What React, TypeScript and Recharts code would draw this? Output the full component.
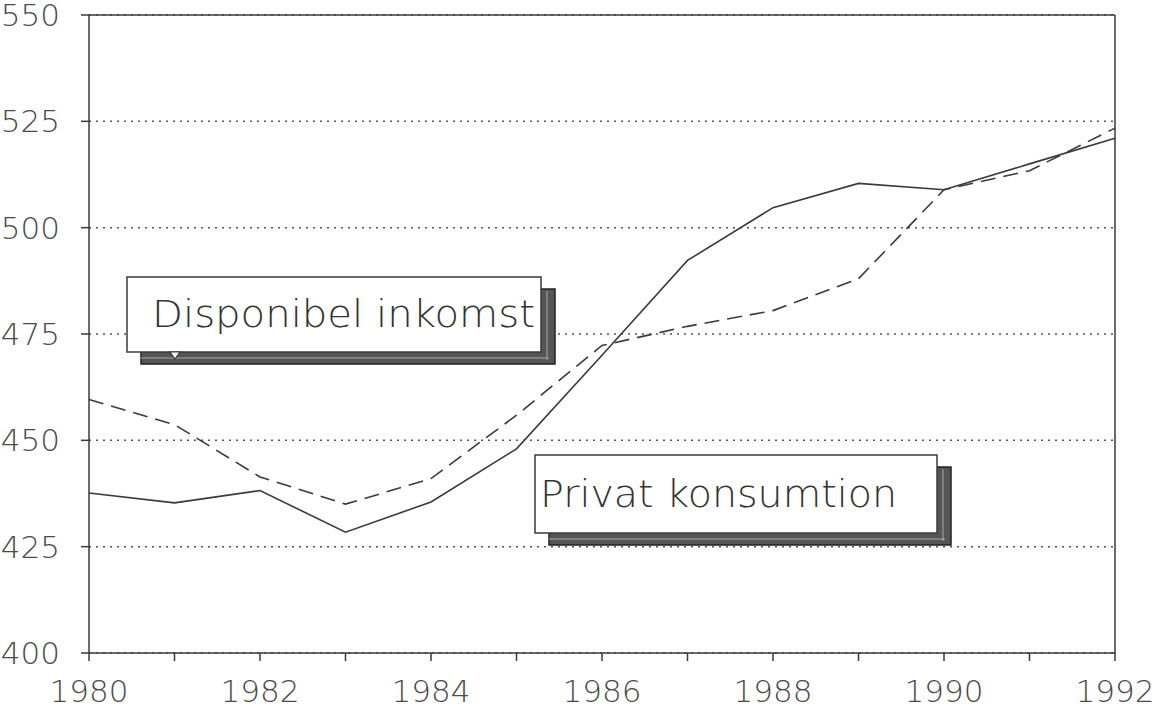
import React from 'react';
import { LineChart, Line, XAxis, YAxis, CartesianGrid, ReferenceLine } from 'recharts';

const years = [1980, 1981, 1982, 1983, 1984, 1985, 1986, 1987, 1988, 1989, 1990, 1991, 1992];
const privatKonsumtion = [437.6, 435.3, 438.2, 428.4, 435.5, 448.0, 470.0, 492.3, 504.7, 510.4, 508.9, 515.0, 521.0];
const disponibelInkomst = [459.6, 453.7, 441.4, 435.0, 441.0, 455.9, 472.3, 476.8, 480.5, 488.0, 508.9, 513.4, 523.4];
const yTicks = [400, 425, 450, 475, 500, 525, 550];
const labelDisponibel = 'Disponibel inkomst';
const labelPrivat = 'Privat konsumtion';

const data = years.map((year, i) => ({
  year,
  privat: privatKonsumtion[i],
  disponibel: disponibelInkomst[i],
}));

const ink = '#3a3a3a';
const tickFont = { fontFamily: "'DejaVu Sans', sans-serif", fontWeight: 200, fontSize: 31, fill: '#4a4a4a' };

function LabelBox(props: { x: number; y: number; w: number; h: number; text: string; tx: number; ty: number; tw: number; notch?: number }) {
  const { x, y, w, h, text, tx, ty, tw, notch } = props;
  return (
    <g>
      <rect x={x + 14} y={y + 12} width={w} height={h} fill="#555" stroke="#222" strokeWidth={1.5} />
      <line x1={x + 14} y1={y + h + 6} x2={x + w + 8} y2={y + h + 6} stroke="#aaa" strokeWidth={1} />
      <line x1={x + w + 6} y1={y + 14} x2={x + w + 6} y2={y + h + 8} stroke="#aaa" strokeWidth={1} />
      <rect x={x} y={y} width={w} height={h} fill="#fff" stroke={ink} strokeWidth={1.5} />
      {notch !== undefined && (
        <path d={`M${notch - 5},${y + h} L${notch + 5},${y + h} L${notch},${y + h + 7} Z`} fill="#fff" stroke={ink} strokeWidth={1.2} />
      )}
      <text x={tx} y={ty} textLength={tw} lengthAdjust="spacingAndGlyphs" fontFamily="'DejaVu Sans', sans-serif" fontWeight={300} fontSize={37} fill="#333">
        {text}
      </text>
    </g>
  );
}

export default function App() {
  return (
    <div style={{ position: 'absolute', left: 0, top: 0, width: 1156, height: 709, background: '#fff' }}>
      <LineChart width={1156} height={709} data={data} margin={{ top: 15, right: 41, left: 0, bottom: 0 }}>
        <CartesianGrid vertical={false} horizontal stroke="#555" strokeDasharray="2 5" strokeWidth={1.5} />
        <XAxis
          dataKey="year"
          type="number"
          domain={[1980, 1992]}
          ticks={years}
          tickFormatter={(v: number) => (v % 2 === 0 ? String(v) : '')}
          height={56}
          tickSize={8}
          tickMargin={19}
          stroke={ink}
          strokeWidth={1.5}
          tick={tickFont}
          interval={0}
        />
        <YAxis
          type="number"
          domain={[400, 550]}
          ticks={yTicks}
          width={89}
          tickSize={8}
          tickMargin={21}
          stroke={ink}
          strokeWidth={1.5}
          tick={tickFont}
          interval={0}
        />
        <ReferenceLine y={550} stroke={ink} strokeWidth={1.5} />
        <ReferenceLine x={1992} stroke={ink} strokeWidth={1.5} />
        <Line type="linear" dataKey="disponibel" stroke={ink} strokeWidth={1.6} strokeDasharray="15 8" dot={false} isAnimationActive={false} />
        <Line type="linear" dataKey="privat" stroke={ink} strokeWidth={1.6} dot={false} isAnimationActive={false} />
      </LineChart>
      <svg width={1156} height={709} style={{ position: 'absolute', left: 0, top: 0, pointerEvents: 'none' }}>
        <LabelBox x={127} y={277} w={414} h={75} text={labelDisponibel} tx={152} ty={327} tw={383} notch={175} />
        <LabelBox x={535} y={455} w={402} h={78} text={labelPrivat} tx={540} ty={507} tw={357} />
      </svg>
    </div>
  );
}
